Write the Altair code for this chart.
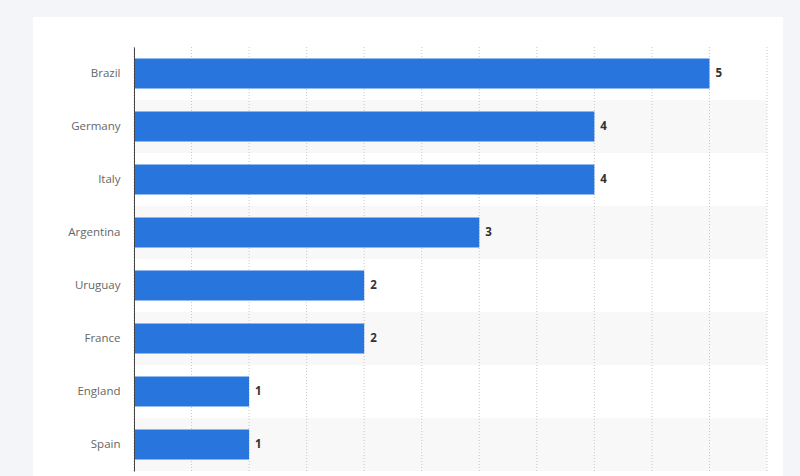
import altair as alt
import pandas as pd

countries = ["Brazil", "Germany", "Italy", "Argentina", "Uruguay", "France", "England", "Spain"]
titles = [5, 4, 4, 3, 2, 2, 1, 1]
grid_values = [0, 0.5, 1, 1.5, 2, 2.5, 3, 3.5, 4, 4.5, 5, 5.5]

df = pd.DataFrame({"country": countries, "titles": titles})
bands = pd.DataFrame({"country": [c for i, c in enumerate(countries) if i % 2 == 1]})
bands["x0"] = 0
bands["x1"] = 5.5
grid = pd.DataFrame({"v": grid_values})

W, H = 633, 424
PAD_INNER = 0.43
xscale = alt.Scale(domain=[0, 5.5], nice=False)
yscale = alt.Scale(domain=countries, paddingInner=PAD_INNER, paddingOuter=PAD_INNER / 2)
yaxis = alt.Axis(orient="left", domain=True, domainColor="#444", domainWidth=1,
                 ticks=False, labelPadding=14, labelColor="#666", zindex=1,
                 labelFontSize=11.5, labelFont="Open Sans", grid=False)

card = alt.Chart(pd.DataFrame({"a": [0]})).mark_rect(color="white", clip=False).encode(
    x=alt.value(-101), x2=alt.value(649), y=alt.value(-30), y2=alt.value(H + 40)
)

band_layer = alt.Chart(bands).mark_bar(color="#f8f8f8", height={"band": 1 / (1 - PAD_INNER)}).encode(
    x=alt.X("x0:Q", scale=xscale, axis=None, title=None),
    x2="x1:Q",
    y=alt.Y("country:N", scale=yscale, axis=yaxis, title=None),
)

grid_layer = alt.Chart(grid).mark_rule(color="#c8c8c8", strokeDash=[1, 2], strokeWidth=1).encode(
    x=alt.X("v:Q", scale=xscale, axis=None, title=None),
    y=alt.value(0), y2=alt.value(H),
)

bars = alt.Chart(df).mark_bar(color="#2876dd").encode(
    x=alt.X("titles:Q", scale=xscale, axis=None, title=None),
    y=alt.Y("country:N", scale=yscale, axis=yaxis, title=None))
labels = alt.Chart(df).mark_text(align="left", dx=6, fontWeight="bold", fontSize=11.5,
                                  font="Open Sans", color="#333").encode(
    x="titles:Q", y=alt.Y("country:N", scale=yscale, axis=yaxis, title=None), text="titles:Q")

chart = alt.layer(card, band_layer, grid_layer, bars, labels).properties(
    width=W, height=H, background="#f4f5f8",
    padding={"left": 134, "top": 47, "right": 33, "bottom": 5},
    autosize=alt.AutoSizeParams(type="none"),
).configure_view(stroke=None)

chart.save("out.html", embed_options={"renderer": "svg", "actions": False})
